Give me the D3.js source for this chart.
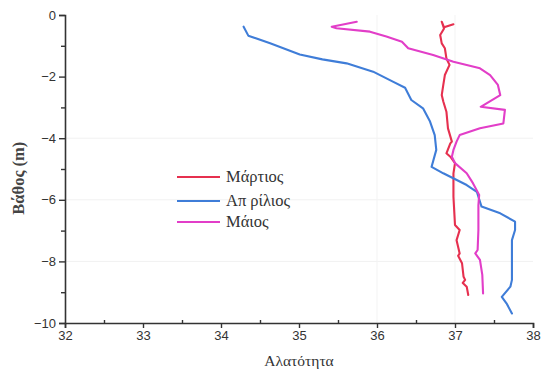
<!DOCTYPE html>
<html><head><meta charset="utf-8">
<script src="https://cdn.jsdelivr.net/npm/d3@7"></script>
<style>html,body{margin:0;padding:0;background:#fff;}svg{display:block;}</style>
</head><body>
<svg id="chart" width="543" height="375"></svg>
<script>
const seriesNames = ["Μάρτιος", "Απ ρίλιος", "Μάιος"];
const xTicks = [32, 33, 34, 35, 36, 37, 38];
const yTicks = [0, -2, -4, -6, -8, -10];

// [salinity, depth]
const marchValues = [
  [36.98,-0.30],[36.86,-0.40],[36.83,-0.22],[36.86,-0.44],[36.81,-0.65],[36.83,-0.92],
  [36.87,-1.08],[36.89,-1.41],[36.93,-1.62],[36.87,-1.95],[36.85,-2.27],[36.83,-2.60],
  [36.85,-2.81],[36.89,-3.14],[36.91,-3.68],[36.96,-4.11],[36.94,-4.17],[36.89,-4.49],
  [36.94,-4.60],[37.00,-4.81],[36.98,-5.14],[36.98,-5.90],[37.00,-6.82],[37.06,-6.98],
  [37.02,-7.31],[37.06,-7.74],[37.04,-7.82],[37.09,-8.06],[37.11,-8.50],[37.13,-8.60],
  [37.10,-8.70],[37.15,-8.82],[37.17,-9.09]
];
const aprilValues = [
  [34.29,-0.38],[34.35,-0.67],[34.63,-0.92],[35.01,-1.28],[35.30,-1.44],[35.61,-1.57],[35.95,-1.84],
  [36.21,-2.17],[36.36,-2.36],[36.44,-2.76],[36.59,-3.03],[36.68,-3.46],[36.74,-3.90],
  [36.76,-4.38],[36.70,-4.93],[36.85,-5.14],[37.15,-5.52],[37.28,-5.74],[37.34,-6.22],
  [37.58,-6.44],[37.77,-6.71],[37.77,-6.98],[37.73,-7.31],[37.73,-8.60],[37.71,-8.82],
  [37.60,-9.15],[37.66,-9.36],[37.73,-9.69]
];
const mayValues = [
  [35.74,-0.22],[35.42,-0.38],[35.48,-0.43],[35.91,-0.54],[36.12,-0.70],[36.32,-0.87],
  [36.40,-1.08],[36.72,-1.30],[36.98,-1.52],[37.32,-1.73],[37.45,-1.95],[37.55,-2.27],
  [37.58,-2.60],[37.33,-2.98],[37.64,-3.08],[37.62,-3.52],[37.32,-3.68],[37.06,-3.90],
  [37.02,-4.11],[36.98,-4.38],[36.96,-4.60],[37.00,-4.81],[37.15,-5.14],[37.23,-5.46],
  [37.31,-5.84],[37.30,-6.17],[37.30,-6.98],[37.29,-7.63],[37.26,-7.74],[37.32,-7.95],
  [37.35,-8.44],[37.36,-9.04]
];
const seriesColors = ["#e6304f", "#3f7dd8", "#e23ec8"];

const svg = d3.select("#chart");
const x = d3.scaleLinear().domain([32, 38]).range([65, 533]);
const y = d3.scaleLinear().domain([0, -10]).range([15, 323]);

// faint grid
const g = svg.append("g");
g.selectAll("line.gy").data([-4,-6,-8]).enter().append("line")
  .attr("x1", x(32)).attr("x2", x(38)).attr("y1", d=>y(d)).attr("y2", d=>y(d))
  .attr("stroke", "#f1f1f1").attr("stroke-width", 1);
g.selectAll("line.gx").data([36,37]).enter().append("line")
  .attr("x1", d=>x(d)).attr("x2", d=>x(d)).attr("y1", y(0)).attr("y2", y(-10))
  .attr("stroke", "#f3f3f3").attr("stroke-width", 1);

// lines
const line = d3.line().x(d=>x(d[0])).y(d=>y(d[1]));
[marchValues, aprilValues, mayValues].forEach((vals, i) => {
  svg.append("path").datum(vals).attr("d", line)
    .attr("fill", "none").attr("stroke", seriesColors[i])
    .attr("stroke-width", 2.1).attr("stroke-linejoin", "round").attr("stroke-linecap", "round");
});

// axes
const axisColor = "#333";
const xAxis = svg.append("g").attr("transform", `translate(0,${y(-10)})`)
  .call(d3.axisBottom(x).tickValues(xTicks).tickSize(5).tickPadding(3).tickFormat(d3.format("d")));
const xMinor = svg.append("g").attr("transform", `translate(0,${y(-10)})`)
  .call(d3.axisTop(x).tickValues(d3.range(32.5, 38, 1)).tickSize(3).tickFormat(""));
const yAxis = svg.append("g").attr("transform", `translate(${x(32)},0)`)
  .call(d3.axisLeft(y).tickValues(yTicks).tickSize(6).tickPadding(3).tickFormat(d3.format("d")));
const yMinor = svg.append("g").attr("transform", `translate(${x(32)},0)`)
  .call(d3.axisLeft(y).tickValues([-1,-3,-5,-7,-9]).tickSize(4).tickFormat(""));
[xAxis, xMinor, yAxis, yMinor].forEach(a => {
  a.select(".domain").attr("stroke", axisColor).attr("stroke-width", 1.6);
  a.selectAll(".tick line").attr("stroke", axisColor).attr("stroke-width", 1.4);
  a.selectAll(".tick text").attr("fill", "#333").attr("font-family", "Liberation Sans, Arial, sans-serif").attr("font-size", 13);
});
xMinor.select(".domain").remove();
yMinor.select(".domain").remove();

// axis titles
svg.append("text").attr("x", x(35)).attr("y", 366).attr("text-anchor", "middle")
  .attr("font-family", "Liberation Serif, Times New Roman, serif").attr("font-size", 15.5)
  .attr("fill", "#333").text("Αλατότητα");
svg.append("text").attr("transform", `translate(24,${y(-5.3)}) rotate(-90)`).attr("text-anchor", "middle")
  .attr("font-family", "Liberation Serif, Times New Roman, serif").attr("font-size", 16.5)
  .attr("font-weight", "bold").attr("fill", "#444").text("Βάθος (m)");

// legend
const legendY = [177, 201, 222];
seriesNames.forEach((name, i) => {
  svg.append("line").attr("x1", 177).attr("x2", 220).attr("y1", legendY[i]).attr("y2", legendY[i])
    .attr("stroke", seriesColors[i]).attr("stroke-width", 2.2);
  svg.append("text").attr("x", 226).attr("y", legendY[i] + 5)
    .attr("font-family", "Liberation Serif, Times New Roman, serif").attr("font-size", 16.5)
    .attr("fill", "#333").text(name);
});
</script>
</body></html>
